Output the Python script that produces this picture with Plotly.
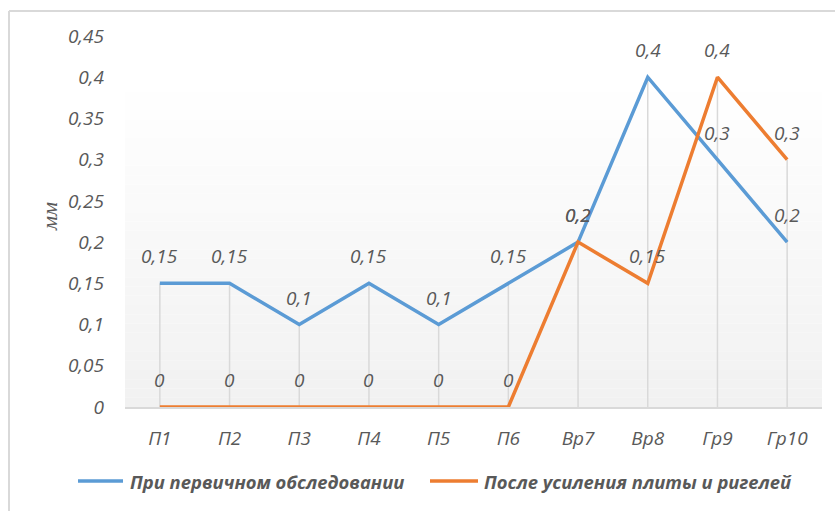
import plotly.graph_objects as go

# Measurement points
categories = ["П1", "П2", "П3", "П4", "П5", "П6", "Вр7", "Вр8", "Гр9", "Гр10"]

# Crack opening width, mm
initial_survey = [0.15, 0.15, 0.1, 0.15, 0.1, 0.15, 0.2, 0.4, 0.3, 0.2]
after_strengthening = [0, 0, 0, 0, 0, 0, 0.2, 0.15, 0.4, 0.3]

series_names = ["При первичном обследовании", "После усиления плиты и ригелей"]
series_colors = ["#5B9BD5", "#ED7D31"]

y_ticks = [0, 0.05, 0.1, 0.15, 0.2, 0.25, 0.3, 0.35, 0.4, 0.45]

W, H = 835, 511
L, R, T, B = 125, 13, 36, 104
plot_w = W - L - R
plot_h = H - T - B


def fmt(v):
    s = ("%g" % v)
    return s.replace(".", ",")


def px_x(p):
    return (p - L) / plot_w


def px_y(p):
    return (H - B - p) / plot_h


fig = go.Figure()

# Drop lines from the higher of the two series down to the axis
drop_x, drop_y = [], []
for c, a, b in zip(categories, initial_survey, after_strengthening):
    drop_x += [c, c, None]
    drop_y += [0, max(a, b), None]
fig.add_trace(go.Scatter(
    x=drop_x, y=drop_y, mode="lines",
    line=dict(color="#d9d9d9", width=1.5),
    showlegend=False, hoverinfo="skip",
))

for name, vals, col in zip(series_names, [initial_survey, after_strengthening], series_colors):
    fig.add_trace(go.Scatter(
        x=categories, y=vals, mode="lines", name=name,
        line=dict(color=col, width=3.5),
        showlegend=False, hoverinfo="skip",
    ))

# Value labels above each point
label_font = dict(family="Open Sans", size=19, color="#595959", style="italic")
for vals in [initial_survey, after_strengthening]:
    for c, v in zip(categories, vals):
        fig.add_annotation(
            x=c, y=v, text=fmt(v), showarrow=False,
            yshift=27, font=label_font,
        )

# Soft vertical gradient in the plot area
n_bands = 40
top_white = 0.88
for i in range(n_bands):
    y0 = i / n_bands
    y1 = (i + 1) / n_bands
    mid = (y0 + y1) / 2
    t = max(0.0, min(1.0, (top_white - mid) / top_white))
    g = round(255 - t * (255 - 241))
    fig.add_shape(
        type="rect", xref="paper", yref="paper",
        x0=0, x1=1, y0=y0, y1=y1,
        fillcolor=f"rgb({g},{g},{g})", line=dict(width=0), layer="below",
    )

# Chart border (top and left edges)
fig.add_shape(type="line", xref="paper", yref="paper",
              x0=px_x(9), x1=px_x(W + 5), y0=px_y(11), y1=px_y(11),
              line=dict(color="#d9d9d9", width=2))
fig.add_shape(type="line", xref="paper", yref="paper",
              x0=px_x(9), x1=px_x(9), y0=px_y(11), y1=px_y(H + 5),
              line=dict(color="#d9d9d9", width=2))

# Axis title
fig.add_annotation(
    xref="paper", yref="paper", x=px_x(50), y=px_y(217),
    xanchor="center", yanchor="middle",
    text="мм", textangle=-90, showarrow=False,
    font=dict(family="Liberation Serif", size=22, color="#595959", style="italic"),
)

# Legend: line sample followed by series name
legend_font = dict(family="Open Sans", size=18.4, color="#595959",
                   style="italic", weight="bold")
legend_items = [(78, 123, 128), (430, 478, 482)]
for (lx0, lx1, tx), name, col in zip(legend_items, series_names, series_colors):
    fig.add_shape(type="line", xref="paper", yref="paper",
                  x0=px_x(lx0), x1=px_x(lx1), y0=px_y(481), y1=px_y(481),
                  line=dict(color=col, width=3.5))
    fig.add_annotation(
        xref="paper", yref="paper", x=px_x(tx), y=px_y(481),
        xanchor="left", yanchor="middle", text=name, showarrow=False,
        font=legend_font,
    )

tick_font = dict(family="Open Sans", size=19, color="#595959", style="italic")

fig.update_layout(
    width=W, height=H,
    margin=dict(l=L, r=R, t=T, b=B),
    paper_bgcolor="white",
    plot_bgcolor="rgba(0,0,0,0)",
    showlegend=False,
    xaxis=dict(
        type="category", categoryorder="array", categoryarray=categories,
        range=[-0.5, len(categories) - 0.5],
        showgrid=False, zeroline=False,
        showline=True, linecolor="#d9d9d9", linewidth=1.5,
        ticks="", tickfont=tick_font, ticklabelstandoff=13,
        fixedrange=True,
    ),
    yaxis=dict(
        range=[0, 0.45], tickvals=y_ticks, ticktext=[fmt(v) for v in y_ticks],
        showgrid=False, zeroline=False, showline=False,
        ticks="", tickfont=tick_font, ticklabelstandoff=20,
        fixedrange=True,
    ),
)

fig.write_html("out.html")
